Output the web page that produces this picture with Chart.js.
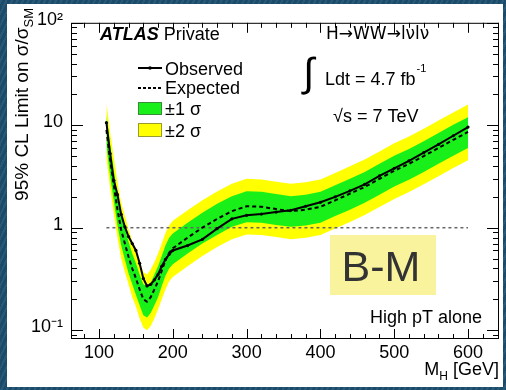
<!DOCTYPE html>
<html>
<head>
<meta charset="utf-8">
<script src="https://cdn.jsdelivr.net/npm/chart.js@4.4.0/dist/chart.umd.min.js"></script>
<style>
html, body { margin:0; padding:0; }
body {
    width:506px; height:390px; position:relative; overflow:hidden;
    background:#1e5072;
    background-image: repeating-linear-gradient(115deg, rgba(255,255,255,0.05) 0 2px, rgba(0,0,0,0.08) 2px 5px);
}
#panel { position:absolute; left:7px; top:4px; width:496px; height:383px; background:#fff; }
</style>
</head>
<body>
<div id="panel"><canvas id="limitChart" width="496" height="383"></canvas></div>
<script>
// Higgs mass points (GeV)
const masses   = [110,115,120,125,130,135,140,145,150,155,160,165,170,175,180,185,190,195,200,
                  220,240,260,280,300,320,340,360,380,400,420,440,460,480,500,520,540,560,580,600];
const observed = [10.6,5.3,2.9,2.1,1.35,1.02,0.82,0.7,0.6,0.45,0.32,0.27,0.28,0.31,0.35,0.42,0.49,0.55,0.6,
                  0.67,0.77,0.98,1.22,1.32,1.36,1.42,1.48,1.62,1.77,2.0,2.29,2.65,3.2,3.8,4.5,5.4,6.5,7.9,9.6];
const expected = [9.0,4.6,2.6,1.5,0.95,0.7,0.52,0.4,0.32,0.25,0.2,0.19,0.21,0.25,0.3,0.38,0.48,0.57,0.63,
                  0.8,1.0,1.22,1.45,1.62,1.6,1.52,1.45,1.5,1.6,1.85,2.15,2.5,3.0,3.6,4.2,5.0,6.0,7.2,8.6];
const sig1Up   = [12.6,6.44,3.64,2.1,1.33,0.98,0.73,0.56,0.45,0.35,0.28,0.27,0.29,0.35,0.42,0.53,0.67,0.8,0.88,
                  1.12,1.4,1.71,2.03,2.27,2.24,2.13,2.03,2.1,2.24,2.59,3.01,3.5,4.2,5.04,5.88,7.0,8.4,10.1,12.0];
const sig1Down = [6.3,3.22,1.82,1.05,0.67,0.49,0.36,0.28,0.22,0.175,0.14,0.133,0.147,0.175,0.21,0.27,0.34,0.4,0.44,
                  0.56,0.7,0.85,1.02,1.13,1.12,1.06,1.02,1.05,1.12,1.3,1.5,1.75,2.1,2.52,2.94,3.5,4.2,5.04,6.0];
const sig2Up   = [16.6,8.5,4.81,2.78,1.76,1.3,0.96,0.74,0.59,0.46,0.37,0.35,0.39,0.46,0.56,0.7,0.89,1.05,1.17,
                  1.48,1.85,2.26,2.68,3.0,2.96,2.81,2.68,2.78,2.96,3.42,3.98,4.63,5.55,6.66,7.77,9.25,11.1,13.3,15.9];
const sig2Down = [4.77,2.44,1.38,0.8,0.5,0.37,0.28,0.21,0.17,0.13,0.106,0.1,0.11,0.13,0.16,0.2,0.25,0.3,0.33,
                  0.42,0.53,0.65,0.77,0.86,0.85,0.81,0.77,0.8,0.85,0.98,1.14,1.33,1.59,1.91,2.23,2.65,3.18,3.82,4.56];
const unityLine = [[110,1],[600,1]];

// axis ticks
const xTickValues = [100,200,300,400,500,600];
const yTickValues = [0.1,1,10,100];
const yTickLabels = ["10\u207B\u00B9","1","10","10\u00B2"];

const FONT = "'Liberation Sans', Arial, sans-serif";
const pts = arr => masses.map((m,i) => ({x:m, y:arr[i]}));

// ── Frame, inward ticks and text annotations (ROOT style) ────────────────
const rootDecor = {
    id: "rootDecor",
    afterDraw(chart) {
        const { ctx, chartArea:a, scales:{x, y} } = chart;
        ctx.save();
        ctx.strokeStyle = "#000"; ctx.lineWidth = 1;
        ctx.strokeRect(a.left+0.5, a.top+0.5, a.right-a.left-1, a.bottom-a.top-1);

        ctx.beginPath();
        for (let m = 80; m <= 640; m += 20) {
            const px = Math.round(x.getPixelForValue(m)) + 0.5;
            const len = (m % 100 === 0) ? 10 : 5;
            ctx.moveTo(px, a.bottom); ctx.lineTo(px, a.bottom-len);
            ctx.moveTo(px, a.top);    ctx.lineTo(px, a.top+len);
        }
        for (let d = 0.01; d <= 100; d *= 10) {
            for (let k = 1; k <= 9; k++) {
                const v = d*k;
                if (v < y.min || v > y.max) continue;
                const py = Math.round(y.getPixelForValue(v)) + 0.5;
                const len = (k === 1) ? 12 : 6;
                ctx.moveTo(a.left, py);  ctx.lineTo(a.left+len, py);
                ctx.moveTo(a.right, py); ctx.lineTo(a.right-len, py);
            }
        }
        ctx.stroke();

        ctx.fillStyle = "#000";
        ctx.textBaseline = "alphabetic";

        // y title, rotated, right-aligned at top
        ctx.save();
        ctx.translate(21, 4);
        ctx.rotate(-Math.PI/2);
        const t1 = "95% CL Limit on \u03C3/\u03C3";
        ctx.font = `13px ${FONT}`;
        const wSub = ctx.measureText("SM").width;
        ctx.font = `19px ${FONT}`;
        const w1 = ctx.measureText(t1).width;
        ctx.fillText(t1, -(w1+wSub), 0);
        ctx.font = `13px ${FONT}`;
        ctx.fillText("SM", -wSub, 5);
        ctx.restore();

        // x title
        ctx.font = `18px ${FONT}`;
        const wG = ctx.measureText(" [GeV]").width;
        const wM = ctx.measureText("M").width;
        ctx.font = `12px ${FONT}`;
        const wH = ctx.measureText("H").width;
        let xr = 492 - wG;
        ctx.font = `18px ${FONT}`;
        ctx.fillText(" [GeV]", xr, 371);
        ctx.font = `12px ${FONT}`;
        ctx.fillText("H", xr - wH, 376);
        ctx.font = `18px ${FONT}`;
        ctx.fillText("M", xr - wH - wM, 371);

        // ATLAS Private
        ctx.font = `italic bold 18px ${FONT}`;
        ctx.fillText("ATLAS", 93, 36);
        const wA = ctx.measureText("ATLAS ").width;
        ctx.font = `18px ${FONT}`;
        ctx.fillText("Private", 93 + wA, 36);

        // legend
        ctx.lineWidth = 2;
        ctx.beginPath(); ctx.moveTo(131, 64); ctx.lineTo(155, 64); ctx.stroke();
        ctx.beginPath(); ctx.arc(143, 64, 1.8, 0, 2*Math.PI); ctx.fill();
        ctx.setLineDash([3,2]);
        ctx.beginPath(); ctx.moveTo(131, 84); ctx.lineTo(155, 84); ctx.stroke();
        ctx.setLineDash([]);
        ctx.lineWidth = 1;
        ctx.fillStyle = "#19f019"; ctx.fillRect(131, 98, 24, 13);
        ctx.strokeStyle = "#3a8a3a"; ctx.strokeRect(131.5, 98.5, 23, 12);
        ctx.fillStyle = "#ffff00"; ctx.fillRect(131, 119, 24, 14);
        ctx.strokeStyle = "#9a9a30"; ctx.strokeRect(131.5, 119.5, 23, 13);
        ctx.fillStyle = "#000";
        ctx.font = `18px ${FONT}`;
        ctx.fillText("Observed", 158, 71);
        ctx.fillText("Expected", 158, 90);
        ctx.fillText("\u00B11 \u03C3", 158, 111);
        ctx.fillText("\u00B12 \u03C3", 158, 133);

        // process / lumi / energy
        ctx.font = `17px 'DejaVu Sans', ${FONT}`;
        ctx.fillText("H\u2192WW\u2192l\u03BDl\u03BD", 319, 35);
        ctx.font = `40px ${FONT}`;
        ctx.fillText("\u222B", 296, 82);
        ctx.font = `18px ${FONT}`;
        ctx.fillText("Ldt = 4.7 fb", 318, 81);
        const wL = ctx.measureText("Ldt = 4.7 fb").width;
        ctx.font = `11px ${FONT}`;
        ctx.fillText("-1", 318 + wL + 1, 68);
        ctx.font = `18px ${FONT}`;
        ctx.fillText("\u221As = 7 TeV", 326, 118);

        // B-M box
        ctx.fillStyle = "#f8f39c";
        ctx.fillRect(323, 231, 106, 60);
        ctx.fillStyle = "#333";
        ctx.font = `43px ${FONT}`;
        ctx.textAlign = "center";
        ctx.fillText("B-M", 374, 277);
        ctx.textAlign = "left";
        ctx.fillStyle = "#000";
        ctx.font = `18px ${FONT}`;
        ctx.fillText("High pT alone", 363, 319);
        ctx.restore();
    }
};

new Chart(document.getElementById("limitChart"), {
    type: "line",
    data: {
        datasets: [
            { data: pts(sig2Up),   fill: "+1", backgroundColor: "#ffff00", borderWidth: 0, pointRadius: 0, order: 6 },
            { data: pts(sig2Down), fill: false, borderWidth: 0, pointRadius: 0, order: 6 },
            { data: pts(sig1Up),   fill: "+1", backgroundColor: "#19f019", borderWidth: 0, pointRadius: 0, order: 4 },
            { data: pts(sig1Down), fill: false, borderWidth: 0, pointRadius: 0, order: 4 },
            { data: unityLine.map(p => ({x:p[0], y:p[1]})), borderColor: "#666", borderWidth: 1.5,
              borderDash: [3,3], pointRadius: 0, fill: false, order: 3 },
            { data: pts(expected), borderColor: "#000", borderWidth: 2, borderDash: [4,3],
              pointRadius: 0, fill: false, order: 1 },
            { data: pts(observed), borderColor: "#000", borderWidth: 2, pointRadius: 1.6,
              pointBackgroundColor: "#000", pointBorderWidth: 0, fill: false, order: 0 },
        ],
    },
    options: {
        responsive: false, animation: false,
        layout: { padding: { top: 12, right: 3, left: 0, bottom: 0 } },
        plugins: { legend: { display: false }, tooltip: { enabled: false } },
        elements: { line: { tension: 0 } },
        scales: {
            x: {
                type: "linear", min: 62, max: 642,
                grid: { display: false, tickLength: 0 }, border: { display: false },
                afterBuildTicks: s => { s.ticks = xTickValues.map(v => ({ value: v })); },
                afterFit: s => { s.height = 48; },
                ticks: { color: "#000", padding: 3, font: { family: FONT, size: 18 }, maxRotation: 0 },
            },
            y: {
                type: "logarithmic", min: 0.082, max: 100,
                grid: { display: false, tickLength: 0 }, border: { display: false },
                afterBuildTicks: s => { s.ticks = yTickValues.map(v => ({ value: v })); },
                afterFit: s => { s.width = 64; },
                ticks: { color: "#000", padding: 8, labelOffset: -3, font: { family: FONT, size: 18 },
                         callback: v => yTickLabels[yTickValues.indexOf(v)] },
            },
        },
    },
    plugins: [rootDecor],
});
</script>
</body>
</html>
